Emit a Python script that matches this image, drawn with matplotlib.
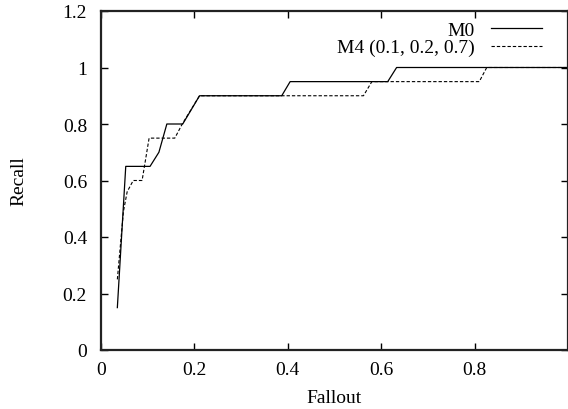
#!/usr/bin/env python3
import matplotlib
matplotlib.use("Agg")
import matplotlib.pyplot as plt

# curvas recall / fallout
m0_fallout = [0.035, 0.053, 0.105, 0.124, 0.141, 0.175, 0.211, 0.387, 0.405, 0.614, 0.633, 1.0]
m0_recall = [0.15, 0.65, 0.65, 0.70, 0.80, 0.80, 0.90, 0.90, 0.95, 0.95, 1.0, 1.0]

m4_fallout = [0.035, 0.048, 0.056, 0.069, 0.088, 0.103, 0.158, 0.174, 0.211, 0.562, 0.580, 0.810, 0.826, 1.0]
m4_recall = [0.25, 0.49, 0.56, 0.60, 0.60, 0.75, 0.75, 0.80, 0.90, 0.90, 0.95, 0.95, 1.0, 1.0]

labels = ["M0", "M4 (0.1, 0.2, 0.7)"]
xticks = [0, 0.2, 0.4, 0.6, 0.8]
xtick_labels = ["0", "0.2", "0.4", "0.6", "0.8"]
yticks = [0, 0.2, 0.4, 0.6, 0.8, 1.0, 1.2]
ytick_labels = ["0", "0.2", "0.4", "0.6", "0.8", "1", "1.2"]

plt.rcParams['font.family'] = ['Liberation Serif', 'DejaVu Serif']
plt.rcParams['font.size'] = 14

fig = plt.figure(figsize=(5.68, 4.10), dpi=100)
# ejes: izquierda 101px, derecha 568px, arriba 12px, abajo 351px
ax = fig.add_axes([101 / 568, (410 - 351) / 410, 467 / 568, 339 / 410])

ax.plot(m0_fallout, m0_recall, color="black", lw=0.9, label=labels[0])
ax.plot(m4_fallout, m4_recall, color="black", lw=0.8, linestyle=(0, (3, 1.8)), label=labels[1])

ax.set_xlim(0, 1.0)
ax.set_ylim(0, 1.2)
ax.set_xticks(xticks)
ax.set_xticklabels(xtick_labels)
ax.set_yticks(yticks)
ax.set_yticklabels(ytick_labels)
ax.tick_params(direction="in", length=5, width=1, top=True, right=True)
ax.tick_params(axis="x", pad=8)
ax.tick_params(axis="y", pad=10)
for s in ax.spines.values():
    s.set_linewidth(1.6)
    s.set_color("#222222")

ax.set_xlabel("Fallout")
ax.xaxis.set_label_coords(0.5, -0.115)
ax.set_ylabel("Recall")
ax.yaxis.set_label_coords(-0.157, 0.5)

ax.legend(loc="upper right", frameon=False, markerfirst=False, handlelength=2.6,
          handletextpad=0.85, borderaxespad=0.0, labelspacing=0.0, borderpad=0.0,
          bbox_to_anchor=(0.944, 0.97))

fig.savefig("out.png", dpi=100)
